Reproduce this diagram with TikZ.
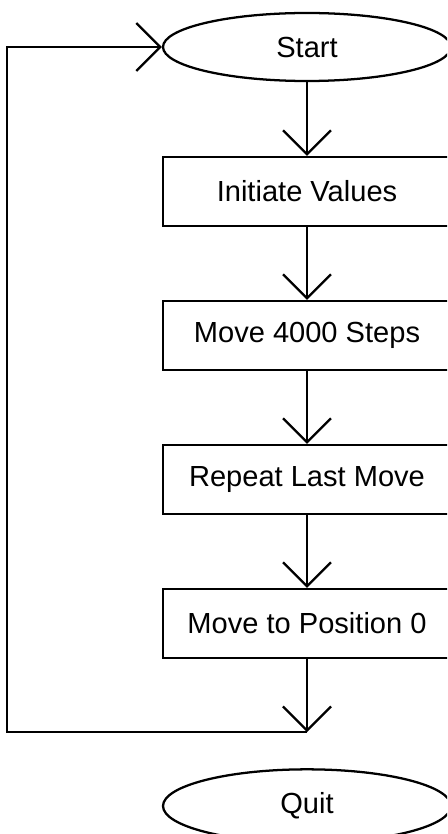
\documentclass[tikz,border=0pt]{standalone}
\usepackage{fontspec}
\setmainfont{Liberation Sans}
\usetikzlibrary{arrows.meta,shapes.geometric}
\begin{document}
\begin{tikzpicture}[x=0.75pt,y=-0.75pt,
  line width=1.7pt, line join=miter,
  txt/.style={font=\fontsize{21.8}{26}\selectfont, text=black},
  stepbox/.style={draw, txt, line width=1.7pt, inner sep=0pt, minimum width=216pt, minimum height=51.75pt},
  term/.style={draw, ellipse, txt, line width=1.7pt, inner sep=0pt, minimum width=216pt, minimum height=51pt},
  arr/.style={-{Straight Barb[length=18pt,width=36pt,line width=1.7pt]}}]
\path[use as bounding box, clip] (0,0) rectangle (447,834);
\fill[white] (0,0) rectangle (447,834);
\node[term] (start) at (307,47) {Start};
\node[stepbox] (init) at (307,191.5) {Initiate Values};
\node[stepbox] (move) at (307,335.5) {Move 4000 Steps};
\node[stepbox] (rep) at (307,479.5) {Repeat Last Move};
\node[stepbox] (pos) at (307,623.5) {Move to Position 0};
\node[term, minimum height=55pt] (quit) at (307,806) {Quit};
\coordinate (loopend) at (307,732);
\coordinate (c1) at (7,732);
\coordinate (c2) at (7,47);
\draw[arr] (start) -- (init);
\draw[arr] (init) -- (move);
\draw[arr] (move) -- (rep);
\draw[arr] (rep) -- (pos);
\draw[arr] (pos) -- (loopend);
\draw[arr] (loopend) -- (c1) -- (c2) -- (start.west);
\end{tikzpicture}
\end{document}
